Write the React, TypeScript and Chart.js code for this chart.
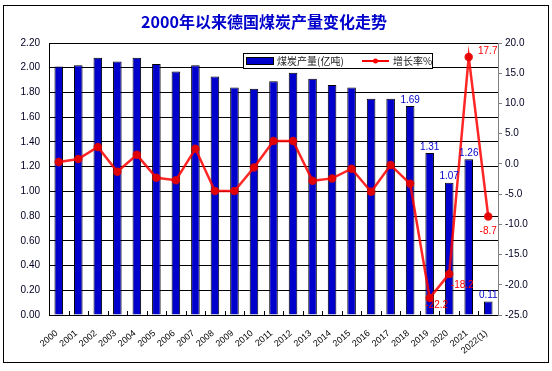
import React, { useEffect, useRef } from "react";
import { Chart, registerables } from "chart.js";

Chart.register(...registerables);

const years = ["2000","2001","2002","2003","2004","2005","2006","2007","2008","2009","2010","2011","2012","2013","2014","2015","2016","2017","2018","2019","2020","2021","2022(1)"];
const production = [2.01,2.02,2.08,2.05,2.08,2.03,1.97,2.02,1.93,1.84,1.83,1.89,1.96,1.91,1.86,1.84,1.75,1.75,1.69,1.31,1.07,1.26,0.11];
const growth = [0.3,0.8,2.8,-1.3,1.5,-2.3,-2.7,2.5,-4.5,-4.5,-0.6,3.8,3.8,-2.8,-2.4,-0.8,-4.6,-0.2,-3.3,-22.2,-18.2,17.7,-8.7];
const labelledProduction = [18,19,20,21,22];
const labelledGrowth = [19,20,21,22];

const TITLE = "2000年以来德国煤炭产量变化走势";
const LEGEND_BAR = "煤炭产量(亿吨)";
const LEGEND_LINE = "增长率%";

// style: offsets for growth labels (dx, dy of label center from point)
const growthLabelOffset: Record<number, [number, number]> = {
  19: [7, 7],
  20: [13, 11],
  21: [19, -6],
  22: [0, 15],
};

const NUM_FONT = "10px 'Liberation Sans', sans-serif";

const decorPlugin = {
  id: "decor",
  beforeDraw(chart: any) {
    const ctx = chart.ctx;
    ctx.save();
    ctx.fillStyle = "#fff";
    ctx.fillRect(0, 0, chart.width, chart.height);
    ctx.restore();
  },
  afterDraw(chart: any) {
    const ctx = chart.ctx;
    const area = chart.chartArea;
    ctx.save();
    ctx.strokeStyle = "#000";
    ctx.lineWidth = 1;
    ctx.strokeRect(3.5, 5.5, 545, 357);
    ctx.fillStyle = "#0000CC";
    ctx.font = "bold 16px 'Noto Sans CJK SC', sans-serif";
    ctx.textAlign = "center";
    ctx.textBaseline = "middle";
    ctx.fillText(TITLE, 264, 22);
    const n = years.length;
    const w = (area.right - area.left) / n;
    ctx.strokeStyle = "#000";
    ctx.beginPath();
    for (let i = 1; i < n; i++) {
      const x = Math.round(area.left + i * w) + 0.5;
      ctx.moveTo(x, area.bottom);
      ctx.lineTo(x, area.bottom - 4);
    }
    ctx.stroke();
    const lx = 243, ly = 53, lw = 189, lh = 15;
    ctx.fillStyle = "#fff";
    ctx.fillRect(lx, ly, lw, lh);
    ctx.strokeStyle = "#000";
    ctx.strokeRect(lx + 0.5, ly + 0.5, lw, lh);
    ctx.fillStyle = "#0000CC";
    ctx.fillRect(246, 57, 27, 7);
    ctx.strokeRect(246.5, 57.5, 27, 7);
    ctx.font = "10px 'Noto Sans CJK SC', sans-serif";
    ctx.fillStyle = "#222";
    ctx.textAlign = "left";
    ctx.textBaseline = "middle";
    ctx.fillText(LEGEND_BAR, 277, 61);
    ctx.strokeStyle = "#FF0000";
    ctx.lineWidth = 2;
    ctx.beginPath();
    ctx.moveTo(362, 61);
    ctx.lineTo(389, 61);
    ctx.stroke();
    ctx.fillStyle = "#FF0000";
    ctx.beginPath();
    ctx.arc(375.5, 61, 2.5, 0, Math.PI * 2);
    ctx.fill();
    ctx.fillStyle = "#222";
    ctx.fillText(LEGEND_LINE, 393, 61);
    ctx.restore();
  },
  afterDatasetsDraw(chart: any) {
    const ctx = chart.ctx;
    ctx.save();
    ctx.font = NUM_FONT;
    ctx.textAlign = "center";
    const barMeta = chart.getDatasetMeta(0);
    ctx.fillStyle = "#0000CC";
    ctx.textBaseline = "bottom";
    labelledProduction.forEach((i) => {
      const el = barMeta.data[i];
      ctx.fillText(production[i].toFixed(2), el.x, el.y - 1);
    });
    const lineMeta = chart.getDatasetMeta(1);
    ctx.fillStyle = "#FF0000";
    ctx.textBaseline = "middle";
    labelledGrowth.forEach((i) => {
      const el = lineMeta.data[i];
      const off = growthLabelOffset[i] || [0, 10];
      ctx.fillText(growth[i].toFixed(1), el.x + off[0], el.y + off[1]);
    });
    ctx.restore();
  },
};

export default function App() {
  const ref = useRef<HTMLCanvasElement | null>(null);
  useEffect(() => {
    if (!ref.current) return;
    const chart = new Chart(ref.current, {
      type: "bar",
      data: {
        labels: years,
        datasets: [
          {
            type: "bar",
            label: LEGEND_BAR,
            data: production,
            backgroundColor: "#0000CC",
            borderColor: "#000",
            borderWidth: 1,
            barPercentage: 0.44,
            categoryPercentage: 1,
            yAxisID: "y",
            order: 1,
          },
          {
            type: "line",
            label: LEGEND_LINE,
            data: growth,
            borderColor: "rgba(255,0,0,0.85)",
            backgroundColor: "#FF0000",
            borderWidth: 2.5,
            pointRadius: 3,
            pointBackgroundColor: "rgba(230,0,0,0.9)",
            pointBorderColor: "rgba(230,0,0,0.9)",
            tension: 0,
            yAxisID: "y1",
            order: 0,
          },
        ],
      } as any,
      options: {
        animation: false,
        responsive: false,
        maintainAspectRatio: false,
        layout: { padding: { top: 43, left: 0, right: 0, bottom: 0 } },
        plugins: {
          legend: { display: false },
          title: { display: false },
          tooltip: { enabled: false },
        },
        scales: {
          x: {
            offset: true,
            grid: { display: false },
            border: { display: true, color: "#000" },
            ticks: {
              color: "#000",
              font: { size: 9, family: "'Liberation Sans', sans-serif" },
              minRotation: 40,
              maxRotation: 40,
              autoSkip: false,
              labelOffset: -2,
              padding: 5,
            },
            afterFit: (s: any) => { s.height = 56; },
          },
          y: {
            position: "left",
            min: 0,
            max: 2.2,
            grid: { color: "#000", lineWidth: 1, drawTicks: false },
            border: { display: true, color: "#000" },
            ticks: {
              stepSize: 0.2,
              color: "#000022",
              padding: 9,
              font: { size: 10, family: "'Liberation Sans', sans-serif" },
              callback: (v: any) => Number(v).toFixed(2),
            },
            afterFit: (s: any) => { s.width = 49; },
          },
          y1: {
            position: "right",
            min: -25,
            max: 20,
            grid: { drawOnChartArea: false, drawTicks: true, tickLength: 4, color: "#808080" },
            border: { display: true, color: "#808080" },
            ticks: {
              stepSize: 5,
              color: "#000022",
              padding: 3,
              font: { size: 10, family: "'Liberation Sans', sans-serif" },
              callback: (v: any) => Number(v).toFixed(1),
            },
            afterFit: (s: any) => { s.width = 54; },
          },
        },
      } as any,
      plugins: [decorPlugin],
    });
    return () => chart.destroy();
  }, []);
  return (
    <div style={{ position: "absolute", left: 0, top: 0, width: 552, height: 371, background: "#fff" }}>
      <canvas ref={ref} width={552} height={371} style={{ width: 552, height: 371, display: "block" }} />
    </div>
  );
}
